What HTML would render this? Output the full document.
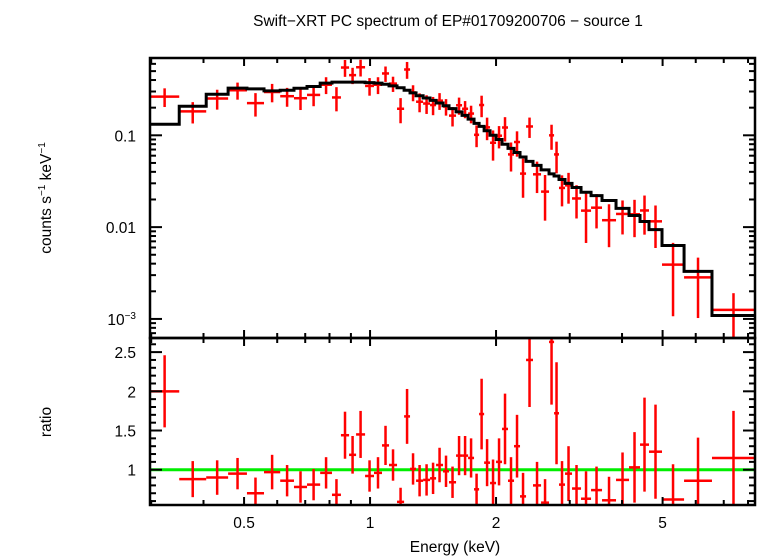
<!DOCTYPE html>
<html><head><meta charset="utf-8">
<style>
html,body{margin:0;padding:0;background:#fff;}
svg{display:block;font-family:"Liberation Sans",sans-serif;}
</style></head>
<body>
<svg id="chart" width="758" height="558" viewBox="0 0 758 558" xmlns="http://www.w3.org/2000/svg">
<rect x="0" y="0" width="758" height="558" fill="#fff"/>
<text x="448" y="26" font-size="15.5" text-anchor="middle">Swift−XRT PC spectrum of EP#01709200706 − source 1</text>
<text transform="translate(51,198) rotate(-90)" font-size="15.5" text-anchor="middle">counts s<tspan font-size="10" dy="-6">−1</tspan><tspan dy="6"> keV</tspan><tspan font-size="10" dy="-6">−1</tspan></text>
<text transform="translate(51,422) rotate(-90)" font-size="15.5" text-anchor="middle">ratio</text>
<text x="455" y="552" font-size="15.5" text-anchor="middle">Energy (keV)</text>
<g id="g"></g>
</svg>
<script>
// ----- data -----
const binEdges = [0.298,0.350,0.406,0.458,0.508,0.558,0.610,0.658,0.707,0.760,0.811,0.852,0.891,0.926,0.973,1.022,1.068,1.110,1.160,1.206,1.246,1.288,1.339,1.391,1.438,1.494,1.544,1.605,1.659,1.715,1.772,1.822,1.873,1.935,2.000,2.067,2.136,2.208,2.282,2.359,2.451,2.562,2.677,2.752,2.828,2.923,3.038,3.192,3.373,3.583,3.870,4.157,4.416,4.640,4.984,5.627,6.561,8.313];
const modelCounts = [0.132,0.207,0.28,0.326,0.32,0.305,0.31,0.325,0.34,0.37,0.38,0.38,0.38,0.38,0.375,0.37,0.36,0.345,0.33,0.31,0.29,0.27,0.255,0.24,0.225,0.21,0.195,0.18,0.165,0.15,0.135,0.125,0.112,0.1,0.09,0.08,0.072,0.065,0.058,0.052,0.047,0.042,0.038,0.036,0.033,0.03,0.027,0.024,0.022,0.0195,0.016,0.0134,0.0115,0.0094,0.0063,0.0033,0.00109];
const ratioValues = [2.0,0.88,0.9,0.95,0.7,0.97,0.86,0.78,0.81,0.96,0.68,1.44,1.19,1.45,0.92,0.96,1.31,1.06,0.59,1.68,1.01,0.86,0.87,0.89,1.06,0.98,0.84,1.18,1.18,1.15,0.75,1.71,1.09,0.83,1.1,1.52,0.86,1.3,0.66,2.4,0.8,0.58,2.63,1.72,0.81,0.95,0.76,0.63,0.74,0.61,0.87,1.03,1.32,1.23,0.62,0.86,1.15];
const ratioErrors = [0.46,0.23,0.22,0.2,0.2,0.22,0.2,0.2,0.2,0.2,0.2,0.3,0.24,0.3,0.2,0.2,0.25,0.2,0.18,0.35,0.2,0.2,0.2,0.2,0.22,0.2,0.2,0.25,0.25,0.25,0.2,0.45,0.3,0.3,0.3,0.45,0.3,0.4,0.3,0.6,0.3,0.3,0.8,0.65,0.3,0.35,0.3,0.35,0.3,0.3,0.35,0.45,0.6,0.6,0.45,0.55,0.6];
const xTickValues = [0.5,1,2,5];
const xTickLabels = ["0.5","1","2","5"];
const xMinorValues = [0.3,0.4,0.6,0.7,0.8,0.9,3,4,6,7,8];
const topYTickValues = [0.1,0.01,0.001];
const ratioTickValues = [1,1.5,2,2.5];
const ratioTickLabels = ["1","1.5","2","2.5"];

// ----- layout / axes -----
const L=150,R=755,T1=58,B1=338,T2=338,B2=505;
const xMin=0.298,xMax=8.313;
const yMin=0.00062,yMax=0.695;
const rMin=0.55,rMax=2.68;
const X=e=>L+(Math.log10(e)-Math.log10(xMin))/(Math.log10(xMax)-Math.log10(xMin))*(R-L);
const Y=v=>B1-(Math.log10(v)-Math.log10(yMin))/(Math.log10(yMax)-Math.log10(yMin))*(B1-T1);
const YR=v=>B2-(v-rMin)/(rMax-rMin)*(B2-T2);
const NS="http://www.w3.org/2000/svg";
const g=document.getElementById('g');
function mk(tag,attrs,parent){const e=document.createElementNS(NS,tag);for(const k in attrs)e.setAttribute(k,attrs[k]);(parent||g).appendChild(e);return e;}
function line(x1,y1,x2,y2,col,w,parent){return mk('line',{x1,y1,x2,y2,stroke:col,'stroke-width':w},parent);}

// clip paths
const defs=mk('defs',{});
const c1=mk('clipPath',{id:'c1'},defs);mk('rect',{x:L,y:T1,width:R-L,height:B1-T1},c1);
const c2=mk('clipPath',{id:'c2'},defs);mk('rect',{x:L,y:T2,width:R-L,height:B2-T2},c2);

// top data
const topData=mk('g',{'clip-path':'url(#c1)'});


const botData=mk('g',{'clip-path':'url(#c2)'});



// green unity line
const unity=line(L,YR(1),R,YR(1),'#00ee00',3,botData);



for(let i=0;i<modelCounts.length;i++){
  const lo=binEdges[i],hi=binEdges[i+1];
  const ec=Math.sqrt(lo*hi);
  const m=modelCounts[i],r=ratioValues[i],er=ratioErrors[i];
  const c=m*r,ce=m*er;
  const gp=mk('g',{},topData);
  
  
  line(X(lo),Y(c),X(hi),Y(c),'#ff0000',2.5,gp);
  line(X(ec),Y(c+ce),X(ec),Y(Math.max(c-ce,yMin*0.5)),'#ff0000',2.5,gp);
  const gr=mk('g',{},botData);
  
  
  line(X(lo),YR(r),X(hi),YR(r),'#ff0000',2.5,gr);
  line(X(ec),YR(r+er),X(ec),YR(r-er),'#ff0000',2.5,gr);
}
// model step line
let d='';
for(let i=0;i<modelCounts.length;i++){
  const y=Y(modelCounts[i]);
  d+=(i===0?'M':'L')+X(binEdges[i])+','+y+'L'+X(binEdges[i+1])+','+y;
}
const model=mk('path',{d,fill:'none',stroke:'#000','stroke-width':3,'stroke-linejoin':'miter'},topData);



// axes ticks
const ax=mk('g',{});


// x ticks on both panels (top & bottom edges)
[[T1,B1],[T2,B2]].forEach(([t,b])=>{
  xTickValues.forEach(v=>{line(X(v),t,X(v),t+8,'#000',2,ax);line(X(v),b,X(v),b-8,'#000',2,ax);});
  xMinorValues.forEach(v=>{line(X(v),t,X(v),t+5,'#000',2,ax);line(X(v),b,X(v),b-5,'#000',2,ax);});
});
// top y ticks (log)
for(let dec=-4;dec<=0;dec++){
  for(let k=1;k<=9;k++){
    const v=k*Math.pow(10,dec);
    if(v<yMin||v>yMax)continue;
    const len=k===1?12:6;
    line(L,Y(v),L+len,Y(v),'#000',2,ax);
    line(R,Y(v),R-len,Y(v),'#000',2,ax);
  }
}
// ratio y ticks
for(let k=6;k<=26;k++){
  const v=k/10;
  const major=(k%5===0);
  const len=major?12:6;
  line(L,YR(v),L+len,YR(v),'#000',2,ax);
  line(R,YR(v),R-len,YR(v),'#000',2,ax);
}
// frames
mk('rect',{x:L,y:T1,width:R-L,height:B1-T1,fill:'none',stroke:'#000','stroke-width':2.5},ax);
mk('rect',{x:L,y:T2,width:R-L,height:B2-T2,fill:'none',stroke:'#000','stroke-width':2.5},ax);

// labels
xTickValues.forEach((v,i)=>{
  const t=mk('text',{x:X(v),y:528,'font-size':15.5,'text-anchor':'middle'});
  t.textContent=xTickLabels[i];
  
  
});
const topLabels=['0.1','0.01',''];
topYTickValues.forEach((v,i)=>{
  const t=mk('text',{x:136,y:Y(v)+6,'font-size':15.5,'text-anchor':'end'});
  if(i===2){t.innerHTML='10<tspan font-size="10" dy="-6">−3</tspan>';}
  else t.textContent=topLabels[i];
  
  
});
ratioTickValues.forEach((v,i)=>{
  const t=mk('text',{x:136,y:YR(v)+6,'font-size':15.5,'text-anchor':'end'});
  t.textContent=ratioTickLabels[i];
  
  
});
</script>
</body></html>
